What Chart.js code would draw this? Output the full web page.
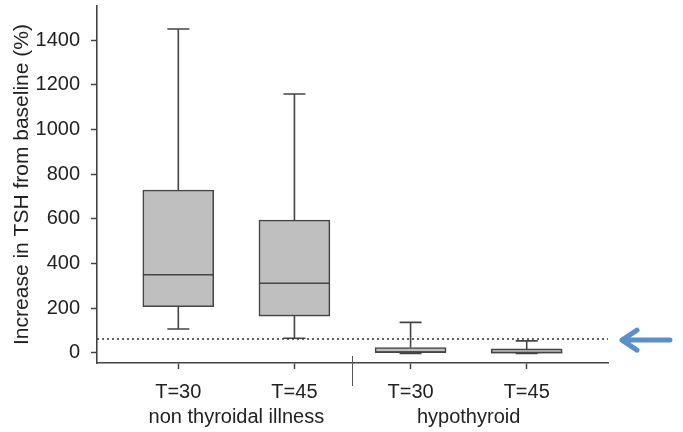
<!DOCTYPE html>
<html>
<head>
<meta charset="utf-8">
<script src="https://cdn.jsdelivr.net/npm/chart.js@4.4.1/dist/chart.umd.min.js"></script>
<style>
  html, body { margin: 0; padding: 0; background: #fff; }
  #wrap { width: 683px; height: 432px; }
</style>
</head>
<body>
<div id="wrap"><canvas id="myChart" width="683" height="432"></canvas></div>
<script>
// data
const categories = ['T=30', 'T=45', 'T=30', 'T=45'];
const groups = ['non thyroidal illness', 'hypothyroid'];
const whiskerMin = [107, 66, -2, -2];
const q1 = [207, 165, 0, -1];
const median = [350, 312, 3, 2];
const q3 = [729, 595, 24, 18];
const whiskerMax = [1450, 1159, 137, 54];
const yTicks = [0, 200, 400, 600, 800, 1000, 1200, 1400];
const baselineLevel = 62; // dotted line

const FONT = 'Liberation Sans, Arial, sans-serif';
const EDGE = '#444';

// whiskers, medians, dotted line, group labels, separator and arrow
const boxExtras = {
    id: 'boxExtras',
    afterDatasetsDraw(chart) {
        const ctx = chart.ctx;
        const x = chart.scales.x;
        const y = chart.scales.y;
        const area = chart.chartArea;
        const half = 35.5, cap = 11;
        ctx.save();
        ctx.strokeStyle = EDGE;
        ctx.lineWidth = 1.6;
        for (let i = 0; i < categories.length; i++) {
            const cx = x.getPixelForValue(i);
            ctx.beginPath();
            ctx.moveTo(cx, y.getPixelForValue(q3[i]));
            ctx.lineTo(cx, y.getPixelForValue(whiskerMax[i]));
            ctx.moveTo(cx - cap, y.getPixelForValue(whiskerMax[i]));
            ctx.lineTo(cx + cap, y.getPixelForValue(whiskerMax[i]));
            ctx.moveTo(cx, y.getPixelForValue(q1[i]));
            ctx.lineTo(cx, y.getPixelForValue(whiskerMin[i]));
            ctx.moveTo(cx - cap, y.getPixelForValue(whiskerMin[i]));
            ctx.lineTo(cx + cap, y.getPixelForValue(whiskerMin[i]));
            ctx.moveTo(cx - half, y.getPixelForValue(median[i]));
            ctx.lineTo(cx + half, y.getPixelForValue(median[i]));
            ctx.stroke();
        }
        // dotted baseline
        const by = y.getPixelForValue(baselineLevel);
        ctx.setLineDash([2, 3]);
        ctx.lineWidth = 1.5;
        ctx.strokeStyle = '#333';
        ctx.beginPath();
        ctx.moveTo(area.left, by);
        ctx.lineTo(area.right, by);
        ctx.stroke();
        ctx.setLineDash([]);

        // separator between groups
        const sx = x.getPixelForValue(1.5);
        ctx.strokeStyle = '#555';
        ctx.lineWidth = 1;
        ctx.beginPath();
        ctx.moveTo(sx, area.bottom - 7);
        ctx.lineTo(sx, area.bottom + 23);
        ctx.stroke();

        // group labels
        ctx.fillStyle = '#222';
        ctx.font = '20px ' + FONT;
        ctx.textAlign = 'center';
        ctx.textBaseline = 'middle';
        ctx.fillText(groups[0], x.getPixelForValue(0.5), area.bottom + 54);
        ctx.fillText(groups[1], x.getPixelForValue(2.5), area.bottom + 54);

        // blue arrow
        ctx.strokeStyle = '#5b8fcb';
        ctx.lineWidth = 5;
        ctx.lineCap = 'round';
        ctx.lineJoin = 'round';
        ctx.beginPath();
        ctx.moveTo(670, by + 1);
        ctx.lineTo(622, by + 1);
        ctx.moveTo(637, by - 9);
        ctx.lineTo(622, by + 1);
        ctx.lineTo(637, by + 11);
        ctx.stroke();
        ctx.restore();
    }
};

const ctx = document.getElementById('myChart').getContext('2d');
const boxChart = new Chart(ctx, {
    type: 'bar',
    data: {
        datasets: [{
            data: categories.map((c, i) => ({ x: i, y: [q1[i], q3[i]] })),
            backgroundColor: '#bfbfbf',
            borderColor: EDGE,
            borderWidth: 1.6,
            borderSkipped: false,
            barThickness: 71
        }]
    },
    options: {
        responsive: false,
        animation: false,
        layout: { padding: { left: 0, top: 6, right: 75, bottom: 0 } },
        plugins: { legend: { display: false }, tooltip: { enabled: false } },
        scales: {
            x: {
                type: 'linear',
                offset: false,
                min: -0.7,
                max: 3.7,
                afterBuildTicks: s => { s.ticks = categories.map((c, i) => ({ value: i })); },
                afterFit: s => { s.height = 69; s.paddingLeft = 0; s.paddingRight = 0; },
                grid: { offset: false, drawOnChartArea: false, tickLength: 6, color: EDGE, tickWidth: 1.5 },
                border: { color: EDGE, width: 1.6 },
                ticks: {
                    callback: v => categories[v],
                    color: '#222',
                    font: { family: FONT, size: 20 },
                    padding: 11,
                    maxRotation: 0
                }
            },
            y: {
                min: -45,
                max: 1553,
                afterBuildTicks: s => { s.ticks = yTicks.map(v => ({ value: v })); },
                afterFit: s => { s.width = 97; s.paddingTop = 0; s.paddingBottom = 0; },
                grid: { drawOnChartArea: false, tickLength: 6, color: EDGE, tickWidth: 1.5 },
                border: { color: EDGE, width: 1.6 },
                ticks: {
                    callback: v => String(v),
                    color: '#222',
                    font: { family: FONT, size: 20 },
                    padding: 11
                },
                title: {
                    display: true,
                    text: 'Increase in TSH from baseline (%)',
                    color: '#222',
                    font: { family: FONT, size: 21 },
                    padding: { top: 10, bottom: 0 }
                }
            }
        }
    },
    plugins: [boxExtras]
});
</script>
</body>
</html>
